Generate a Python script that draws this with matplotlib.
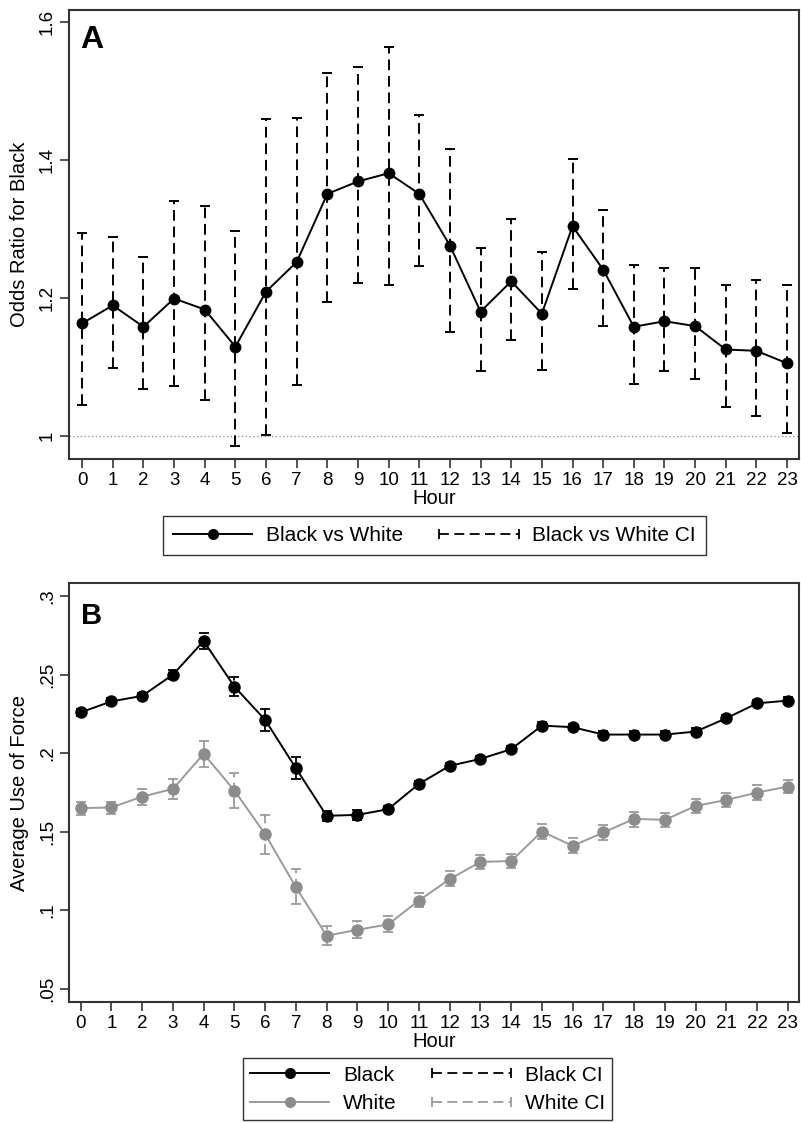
import matplotlib
matplotlib.use("Agg")
import matplotlib.pyplot as plt
from matplotlib.lines import Line2D
from matplotlib.legend_handler import HandlerLine2D

plt.rcParams['font.family'] = ['Liberation Sans', 'DejaVu Sans']

# --- Data ---
hours = list(range(24))

# Panel A: odds ratio for Black vs White with 95% CI
odds_ratio = [1.163, 1.189, 1.158, 1.199, 1.183, 1.129, 1.209, 1.252, 1.351, 1.369, 1.381, 1.351,
              1.276, 1.180, 1.224, 1.177, 1.304, 1.241, 1.158, 1.166, 1.159, 1.125, 1.123, 1.105]
or_lower = [1.045, 1.098, 1.067, 1.072, 1.051, 0.985, 1.001, 1.074, 1.194, 1.221, 1.219, 1.246,
            1.150, 1.094, 1.139, 1.095, 1.213, 1.159, 1.075, 1.094, 1.082, 1.041, 1.029, 1.004]
or_upper = [1.294, 1.289, 1.259, 1.340, 1.333, 1.297, 1.459, 1.461, 1.527, 1.535, 1.564, 1.465,
            1.416, 1.273, 1.315, 1.266, 1.402, 1.328, 1.247, 1.243, 1.243, 1.218, 1.226, 1.218]

# Panel B: average use of force by race
black_mean = [0.2260, 0.2330, 0.2365, 0.2500, 0.2714, 0.2424, 0.2212, 0.1905, 0.1602, 0.1608, 0.1644, 0.1805,
              0.1920, 0.1964, 0.2026, 0.2176, 0.2166, 0.2119, 0.2119, 0.2119, 0.2138, 0.2223, 0.2318, 0.2335]
black_lower = [0.2240, 0.2310, 0.2345, 0.2470, 0.2664, 0.2364, 0.2142, 0.1835, 0.1572, 0.1578, 0.1624, 0.1785,
               0.1900, 0.1944, 0.2006, 0.2156, 0.2146, 0.2099, 0.2099, 0.2099, 0.2118, 0.2203, 0.2298, 0.2315]
black_upper = [0.2280, 0.2350, 0.2385, 0.2530, 0.2764, 0.2484, 0.2282, 0.1975, 0.1632, 0.1638, 0.1664, 0.1825,
               0.1940, 0.1984, 0.2046, 0.2196, 0.2186, 0.2139, 0.2139, 0.2139, 0.2158, 0.2243, 0.2338, 0.2355]
white_mean = [0.1651, 0.1655, 0.1724, 0.1773, 0.1996, 0.1763, 0.1485, 0.1148, 0.0839, 0.0877, 0.0911, 0.1063,
              0.1199, 0.1309, 0.1314, 0.1502, 0.1411, 0.1496, 0.1583, 0.1576, 0.1665, 0.1703, 0.1750, 0.1788]
white_lower = [0.1608, 0.1612, 0.1672, 0.1710, 0.1915, 0.1651, 0.1360, 0.1040, 0.0777, 0.0824, 0.0864, 0.1019,
               0.1157, 0.1265, 0.1269, 0.1454, 0.1364, 0.1445, 0.1534, 0.1530, 0.1619, 0.1658, 0.1704, 0.1746]
white_upper = [0.1689, 0.1693, 0.1773, 0.1835, 0.2078, 0.1877, 0.1608, 0.1265, 0.0902, 0.0930, 0.0962, 0.1110,
               0.1248, 0.1354, 0.1358, 0.1549, 0.1460, 0.1545, 0.1629, 0.1622, 0.1708, 0.1748, 0.1796, 0.1831]

a_yticks = [1, 1.2, 1.4, 1.6]
a_ylabels = ['1', '1.2', '1.4', '1.6']
b_yticks = [0.05, 0.10, 0.15, 0.20, 0.25, 0.30]
b_ylabels = ['.05', '.1', '.15', '.2', '.25', '.3']

FRAME = '#333333'
GREY_M = '#8c8c8c'
GREY_L = '#9a9a9a'
DASH = (0, (5.5, 3))


def style_axes(ax, yticks, ylabels, ylabel):
    for sp in ax.spines.values():
        sp.set_color(FRAME)
        sp.set_linewidth(1.5)
    ax.set_xticks(hours)
    ax.set_xticklabels([str(h) for h in hours])
    ax.set_yticks(yticks)
    ax.set_yticklabels(ylabels, rotation=90, va='center')
    ax.tick_params(direction='out', length=6.5, width=1.2, color=FRAME, labelsize=13.5, pad=3)
    ax.set_xlabel('Hour', fontsize=14.5, labelpad=0)
    ax.set_ylabel(ylabel, fontsize=14.5, labelpad=7)


def errbars(ax, x, mean, lo, hi, color, cap, lw, z):
    err = [[m - l for m, l in zip(mean, lo)], [h - m for m, h in zip(mean, hi)]]
    _, caps, bars = ax.errorbar(x, mean, yerr=err, fmt='none', ecolor=color,
                                elinewidth=lw, capsize=cap, capthick=lw, zorder=z)
    bars[0].set_linestyle(DASH)


fig = plt.figure(figsize=(8.01, 11.23), dpi=100)

# --- Panel A ---
axA = fig.add_axes([0.0861, 0.5913, 0.9114, 0.3998])
axA.axhline(1, color='#888888', lw=0.9, ls=(0, (1, 2)), zorder=1)
errbars(axA, hours, odds_ratio, or_lower, or_upper, 'black', 3.5, 1.4, 2)
axA.plot(hours, odds_ratio, color='black', lw=1.4, marker='o', ms=7.5, zorder=3)
axA.set_xlim(-0.43, 23.39)
axA.set_ylim(0.966, 1.618)
style_axes(axA, a_yticks, a_ylabels, 'Odds Ratio for Black')
axA.text(0.016, 0.967, 'A', transform=axA.transAxes, fontsize=23, fontweight='bold',
         ha='left', va='top')

hA1 = Line2D([], [], color='black', lw=1.4, marker='o', ms=7)
hA2 = Line2D([], [], color='black', lw=1.3, ls=DASH, marker='|', ms=7, mew=1.3)
fig.legend([hA1, hA2], ['Black vs White', 'Black vs White CI'], ncol=2,
           loc='center', bbox_to_anchor=(0.5424, 0.5232), fontsize=15,
           frameon=True, fancybox=False, edgecolor=FRAME, framealpha=1,
           handlelength=3.8, handletextpad=0.65, columnspacing=1.75, borderpad=0.5,
           handler_map={hA2: HandlerLine2D(numpoints=2, marker_pad=0)})

# --- Panel B ---
axB = fig.add_axes([0.0861, 0.1077, 0.9114, 0.3731])
errbars(axB, hours, white_mean, white_lower, white_upper, GREY_L, 3.5, 1.3, 2)
axB.plot(hours, white_mean, color=GREY_L, lw=1.4, zorder=3)
axB.plot(hours, white_mean, ls='none', marker='o', ms=8, color=GREY_M, zorder=3)
errbars(axB, hours, black_mean, black_lower, black_upper, 'black', 3.5, 1.3, 4)
axB.plot(hours, black_mean, color='black', lw=1.4, marker='o', ms=8, zorder=5)
axB.set_xlim(-0.38, 23.36)
axB.set_ylim(0.0417, 0.3083)
style_axes(axB, b_yticks, b_ylabels, 'Average Use of Force')
axB.text(0.016, 0.955, 'B', transform=axB.transAxes, fontsize=21, fontweight='bold',
         ha='left', va='top')

hB1 = Line2D([], [], color='black', lw=1.4, marker='o', ms=7)
hB2 = Line2D([], [], color=GREY_L, lw=1.4, marker='o', ms=7, mfc=GREY_M, mec=GREY_M)
hB3 = Line2D([], [], color='black', lw=1.3, ls=DASH, marker='|', ms=7, mew=1.3)
hB4 = Line2D([], [], color=GREY_L, lw=1.3, ls=DASH, marker='|', ms=7, mew=1.3)
fig.legend([hB1, hB2, hB3, hB4], ['Black', 'White', 'Black CI', 'White CI'], ncol=2,
           loc='center', bbox_to_anchor=(0.5337, 0.0300), fontsize=15,
           frameon=True, fancybox=False, edgecolor=FRAME, framealpha=1,
           handlelength=3.8, handletextpad=0.65, columnspacing=1.7, borderpad=0.35,
           labelspacing=0.45,
           handler_map={hB3: HandlerLine2D(numpoints=2, marker_pad=0),
                        hB4: HandlerLine2D(numpoints=2, marker_pad=0)})

fig.savefig('out.png', dpi=100, facecolor='white')
